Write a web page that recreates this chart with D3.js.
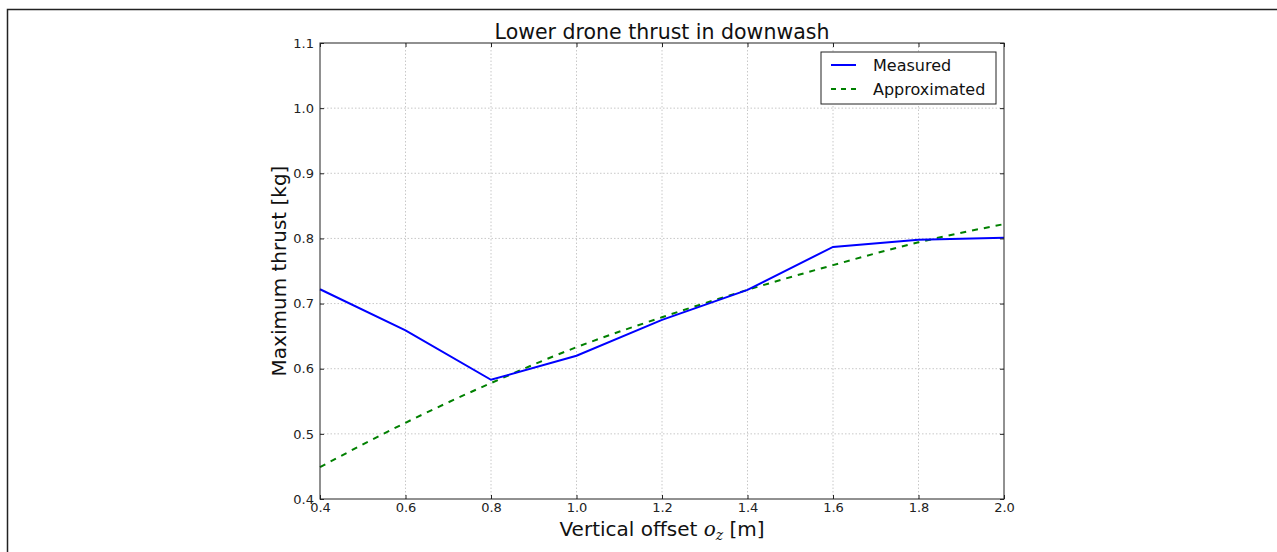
<!DOCTYPE html>
<html lang="en">
<head>
	<meta charset="UTF-8">
	<title>Lower drone thrust in downwash</title>
	<script src="https://d3js.org/d3.v7.min.js"></script>
	<style>
		body { margin: 0; background-color: white; }
		svg { display: block; font-family: "DejaVu Sans", sans-serif; }
		.grid line { stroke: #c8c8c8; stroke-dasharray: 1.5,2; }
	</style>
</head>
<body>
	<script>
		// data
		var offsets = [0.4, 0.6, 0.8, 1.0, 1.2, 1.4, 1.6, 1.8, 2.0];
		var measured = [0.722, 0.659, 0.583, 0.620, 0.675, 0.721, 0.787, 0.798, 0.801];
		var approximated = [0.449, 0.517, 0.578, 0.633, 0.679, 0.721, 0.759, 0.794, 0.822];
		var xTicks = [0.4, 0.6, 0.8, 1.0, 1.2, 1.4, 1.6, 1.8, 2.0];
		var yTicks = [0.4, 0.5, 0.6, 0.7, 0.8, 0.9, 1.0, 1.1];

		var W = 1277, H = 552;
		var margin = {top: 43, right: 273, bottom: 53, left: 320},
			width = W - margin.left - margin.right,
			height = H - margin.top - margin.bottom;

		var svg = d3.select('body')
			.append('svg')
			.attr('width', W)
			.attr('height', H);

		// figure frame
		svg.append('rect')
			.attr('x', 7.5).attr('y', 9.5)
			.attr('width', W).attr('height', H)
			.attr('fill', 'none')
			.attr('stroke', '#222')
			.attr('stroke-width', 1.5);

		var x = d3.scaleLinear().domain([0.4, 2.0]).range([0, width]);
		var y = d3.scaleLinear().domain([0.4, 1.1]).range([height, 0]);

		var g = svg.append('g')
			.attr('transform', 'translate(' + margin.left + ',' + margin.top + ')');

		// grid
		g.append('g').attr('class', 'grid')
			.selectAll('line').data(xTicks.slice(1, -1)).enter().append('line')
			.attr('x1', function(d){ return x(d); }).attr('x2', function(d){ return x(d); })
			.attr('y1', 0).attr('y2', height);
		g.append('g').attr('class', 'grid')
			.selectAll('line').data(yTicks.slice(1, -1)).enter().append('line')
			.attr('y1', function(d){ return y(d); }).attr('y2', function(d){ return y(d); })
			.attr('x1', 0).attr('x2', width);

		// lines
		var line = d3.line()
			.x(function(d, i){ return x(offsets[i]); })
			.y(function(d){ return y(d); });

		g.append('path')
			.datum(approximated)
			.attr('d', line.curve(d3.curveMonotoneX))
			.attr('fill', 'none')
			.attr('stroke', '#008000')
			.attr('stroke-width', 2)
			.attr('stroke-dasharray', '6,6');

		g.append('path')
			.datum(measured)
			.attr('d', line.curve(d3.curveLinear))
			.attr('fill', 'none')
			.attr('stroke', '#0000ff')
			.attr('stroke-width', 2);

		// axes (ticks inward)
		var fmt = d3.format('.1f');
		g.append('g')
			.attr('transform', 'translate(0,' + height + ')')
			.call(d3.axisBottom(x).tickValues(xTicks).tickFormat(fmt).tickSizeInner(-4).tickSizeOuter(0).tickPadding(4))
			.call(function(a){ a.select('.domain').remove(); });
		g.append('g')
			.call(d3.axisTop(x).tickValues(xTicks).tickFormat('').tickSizeInner(-4).tickSizeOuter(0))
			.call(function(a){ a.select('.domain').remove(); });
		g.append('g')
			.call(d3.axisLeft(y).tickValues(yTicks).tickFormat(fmt).tickSizeInner(-4).tickSizeOuter(0).tickPadding(6))
			.call(function(a){ a.select('.domain').remove(); });
		g.append('g')
			.attr('transform', 'translate(' + width + ',0)')
			.call(d3.axisRight(y).tickValues(yTicks).tickFormat('').tickSizeInner(-4).tickSizeOuter(0))
			.call(function(a){ a.select('.domain').remove(); });
		g.selectAll('.tick line').attr('stroke', '#222');
		g.selectAll('.tick text')
			.attr('font-size', 13)
			.attr('font-family', 'DejaVu Sans, sans-serif')
			.attr('fill', '#222');

		g.append('rect')
			.attr('x', 0).attr('y', 0)
			.attr('width', width).attr('height', height)
			.attr('fill', 'none')
			.attr('stroke', '#222')
			.attr('stroke-width', 1);

		// title & labels
		svg.append('text')
			.attr('x', margin.left + width / 2).attr('y', 39)
			.attr('text-anchor', 'middle')
			.attr('font-size', 20.5)
			.attr('fill', '#111')
			.text('Lower drone thrust in downwash');

		var xl = svg.append('text')
			.attr('x', margin.left + width / 2).attr('y', 536)
			.attr('text-anchor', 'middle')
			.attr('font-size', 20)
			.attr('fill', '#111');
		xl.append('tspan').text('Vertical offset ');
		xl.append('tspan').attr('font-family', 'DejaVu Serif, serif').attr('font-style', 'italic').text('o');
		xl.append('tspan').attr('font-family', 'DejaVu Serif, serif').attr('font-style', 'italic')
			.attr('font-size', 14).attr('dy', 4).text('z');
		xl.append('tspan').attr('dy', -4).text(' [m]');

		svg.append('text')
			.attr('transform', 'translate(286,' + (margin.top + height / 2) + ') rotate(-90)')
			.attr('text-anchor', 'middle')
			.attr('font-size', 20)
			.attr('fill', '#111')
			.text('Maximum thrust [kg]');

		// legend
		var legend = svg.append('g').attr('transform', 'translate(821,52)');
		legend.append('rect')
			.attr('width', 175).attr('height', 52)
			.attr('fill', 'white')
			.attr('stroke', '#222')
			.attr('stroke-width', 1);
		var items = [
			{name: 'Measured', color: '#0000ff', dash: null},
			{name: 'Approximated', color: '#008000', dash: '5,5'}
		];
		items.forEach(function(it, i) {
			var yy = 13 + i * 24;
			legend.append('line')
				.attr('x1', 10).attr('x2', 35)
				.attr('y1', yy).attr('y2', yy)
				.attr('stroke', it.color)
				.attr('stroke-width', 2)
				.attr('stroke-dasharray', it.dash);
			legend.append('text')
				.attr('x', 52).attr('y', yy + 5.5)
				.attr('font-size', 16)
				.attr('fill', '#111')
				.text(it.name);
		});
	</script>
</body>
</html>
